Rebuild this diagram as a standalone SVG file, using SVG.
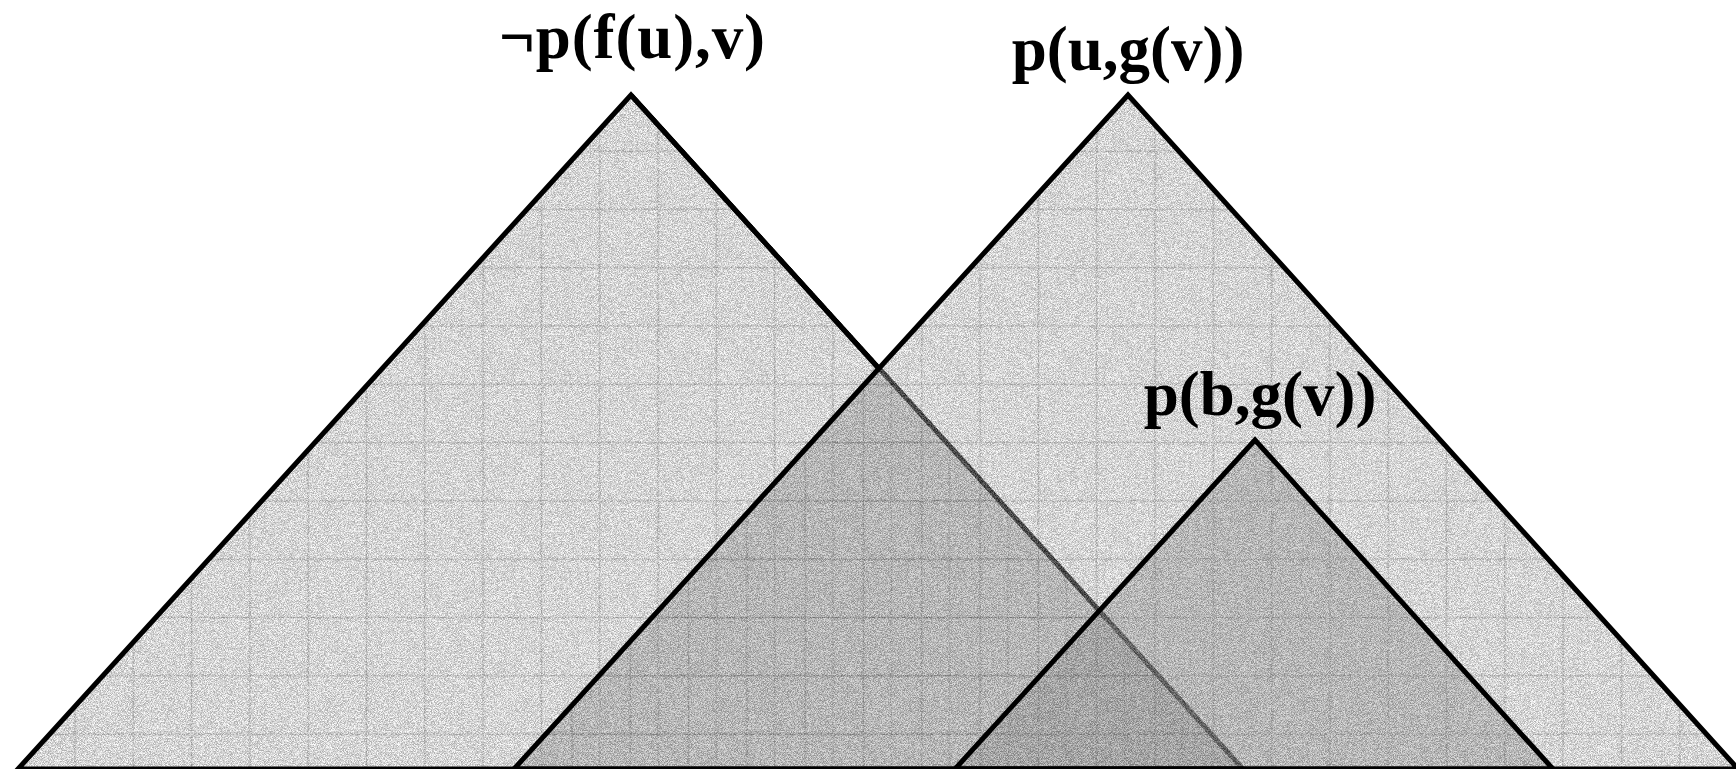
<svg xmlns="http://www.w3.org/2000/svg" width="1736" height="769" viewBox="0 0 1736 769">
  <style>
    .lbl { font-family: "Liberation Serif", "Times New Roman", serif; font-weight: bold; font-size: 63px; fill: #000; text-anchor: middle; }
    .edge { fill: none; stroke: #000; stroke-width: 5; stroke-linejoin: miter; stroke-miterlimit: 10; }
    .gridline { fill: none; stroke: #000; stroke-opacity: 0.14; stroke-width: 1.5; }
  </style>
  <defs>
    <pattern id="grid1" patternUnits="userSpaceOnUse" x="-12.45" y="5.35" width="58.3" height="58.3">
      <path class="gridline" d="M0 29.15H58.3M29.15 0V58.3"/>
    </pattern>
    <pattern id="grid2" patternUnits="userSpaceOnUse" x="484.55" y="5.35" width="58.3" height="58.3">
      <path class="gridline" d="M0 29.15H58.3M29.15 0V58.3"/>
    </pattern>
    <filter id="grain" filterUnits="userSpaceOnUse" x="0" y="0" width="1736" height="769" color-interpolation-filters="sRGB">
      <feTurbulence type="fractalNoise" baseFrequency="1.3" numOctaves="1" seed="7" result="t"/>
      <feColorMatrix in="t" type="matrix" values="3 0 0 0 -1  3 0 0 0 -1  3 0 0 0 -1  0 0 0 0 1" result="n"/>
      <feComposite in="SourceGraphic" in2="n" operator="arithmetic" k1="0" k2="1" k3="0.3" k4="-0.1" result="mix"/>
      <feComposite in="mix" in2="SourceAlpha" operator="in"/>
    </filter>
  </defs>

  <rect width="1736" height="769" fill="#ffffff"/>

  <!-- fills (with texture) -->
  <g id="fills" filter="url(#grain)">
    <polygon points="1128,95 514,769 1738,769" fill="#ffffff"/>
    <g id="tri-not-p-fu-v-fill">
      <polygon points="631,95 18,769 1243,769" fill="#c8c8c8"/>
      <polygon points="631,95 18,769 1243,769" fill="url(#grid1)"/>
      <line x1="631" y1="95" x2="1243" y2="769" stroke="#000" stroke-width="5"/>
    </g>
    <g id="tri-p-u-gv-fill">
      <polygon points="1128,95 514,769 1738,769" fill="#868686" fill-opacity="0.455"/>
      <polygon points="1128,95 514,769 1738,769" fill="url(#grid2)"/>
    </g>
    <g id="tri-p-b-gv-fill">
      <polygon points="1255,440 955,769 1553,769" fill="#7d7d7d" fill-opacity="0.4"/>
    </g>
  </g>

  <!-- outlines -->
  <g id="outlines">
    <polyline class="edge" points="878.8,368.6 631,95 18,769 1243,769"/>
    <polygon class="edge" points="1128,95 514,769 1738,769"/>
    <polygon class="edge" points="1255,440 955,769 1553,769"/>
  </g>

  <!-- labels -->
  <g id="labels">
    <text id="label-not-p-fu-v" class="lbl" x="632" y="58" textLength="266" lengthAdjust="spacing">¬p(f(u),v)</text>
    <text id="label-p-u-gv" class="lbl" x="1128" y="70">p(u,g(v))</text>
    <text id="label-p-b-gv" class="lbl" x="1260" y="415">p(b,g(v))</text>
  </g>
</svg>
